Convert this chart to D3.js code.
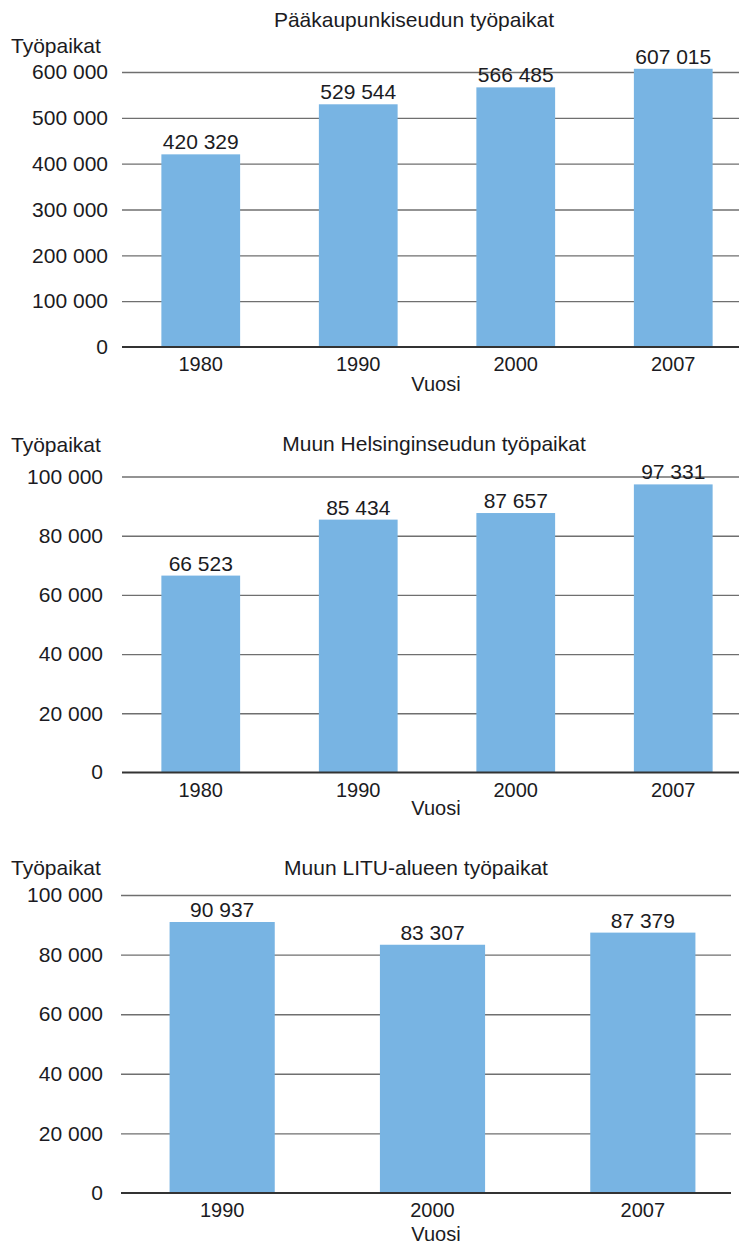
<!DOCTYPE html>
<html>
<head>
<meta charset="utf-8">
<script src="https://cdn.jsdelivr.net/npm/d3@7"></script>
<style>
  body { margin: 0; background: #fff; }
  svg text { font-family: "Liberation Sans", Arial, sans-serif; fill: #1b1b22; }
</style>
</head>
<body>
<div id="chart"></div>
<script>
// data
const titles = ["Pääkaupunkiseudun työpaikat", "Muun Helsinginseudun työpaikat", "Muun LITU-alueen työpaikat"];
const years1 = ["1980", "1990", "2000", "2007"];
const values1 = [420329, 529544, 566485, 607015];
const years2 = ["1980", "1990", "2000", "2007"];
const values2 = [66523, 85434, 87657, 97331];
const years3 = ["1990", "2000", "2007"];
const values3 = [90937, 83307, 87379];
const ticks1 = [0, 100000, 200000, 300000, 400000, 500000, 600000];
const ticks23 = [0, 20000, 40000, 60000, 80000, 100000];
const yLabel = "Työpaikat";
const xLabel = "Vuosi";

const width = 739;
const height = 1247;

const fi = d3.formatLocale({ decimal: ",", thousands: "\u00a0", grouping: [3], currency: ["", " €"] });
const fmt = fi.format(",d");

const svg = d3.select('#chart')
  .append('svg')
  .attr('width', width)
  .attr('height', height)

// layout of each panel (pixels)
const panels = [
  { title: titles[0], cats: years1, vals: values1, ticks: ticks1, max: 600000,
    x0: 122, x1: 752, gridEnd: 739, top: 72, base: 347, titleX: 414, titleY: 27, yLabY: 53, vuosiY: 391, pad: 14 },
  { title: titles[1], cats: years2, vals: values2, ticks: ticks23, max: 100000,
    x0: 122, x1: 752, gridEnd: 739, top: 476.5, base: 772.5, titleX: 434, titleY: 451, yLabY: 452, vuosiY: 815, pad: 19 },
  { title: titles[2], cats: years3, vals: values3, ticks: ticks23, max: 100000,
    x0: 117, x1: 748, gridEnd: 731, top: 895, base: 1193, titleX: 416, titleY: 875, yLabY: 875, vuosiY: 1241, pad: 18, gridStart: 121 }
];

panels.forEach(p => {
  const g = svg.append('g');
  const gs = p.gridStart || p.x0;

  const x = d3.scaleBand()
    .domain(p.cats)
    .range([p.x0, p.x1])
    .paddingInner(0.5)
    .paddingOuter(0.25);

  const y = d3.scaleLinear()
    .domain([0, p.max])
    .range([p.base, p.top]);

  // gridlines + tick labels
  const yAxis = d3.axisLeft(y)
    .tickValues(p.ticks.filter(t => t > 0))
    .tickSize(-(p.gridEnd - gs))
    .tickPadding(p.pad)
    .tickFormat(fmt);

  g.append('g')
    .attr('transform', `translate(${gs},0)`)
    .call(yAxis)
    .call(a => a.select('.domain').remove())
    .call(a => a.selectAll('line').attr('stroke', '#6f6f6f').attr('stroke-width', 1.4))
    .call(a => a.selectAll('text').attr('font-size', 21).attr('fill', '#1b1b22'));

  // zero label
  g.append('text')
    .attr('x', gs - p.pad)
    .attr('y', y(0))
    .attr('dy', '0.32em')
    .attr('text-anchor', 'end')
    .attr('font-size', 21)
    .text(fmt(0));

  g.selectAll('rect')
    .data(p.vals)
    .enter()
    .append('rect')
    .attr('x', (d, i) => x(p.cats[i]))
    .attr('y', d => y(d))
    .attr('width', x.bandwidth())
    .attr('height', d => y(0) - y(d))
    .style('fill', '#78b4e3')

  g.selectAll('text.val')
    .data(p.vals)
    .enter()
    .append('text')
    .attr('class', 'val')
    .attr('x', (d, i) => x(p.cats[i]) + x.bandwidth() / 2)
    .attr('y', d => y(d) - 5)
    .attr('text-anchor', 'middle')
    .attr('font-size', 21)
    .text(d => fmt(d))

  // baseline
  g.append('line')
    .attr('x1', gs)
    .attr('x2', p.gridEnd)
    .attr('y1', y(0))
    .attr('y2', y(0))
    .attr('stroke', '#333')
    .attr('stroke-width', 2)

  const xAxis = d3.axisBottom(x)
    .tickSize(0)
    .tickPadding(10);

  g.append('g')
    .attr('transform', `translate(0,${y(0)})`)
    .call(xAxis)
    .call(a => a.select('.domain').remove())
    .call(a => a.selectAll('text').attr('font-size', 20).attr('fill', '#1b1b22'));

  g.append('text')
    .attr('x', p.titleX)
    .attr('y', p.titleY)
    .attr('text-anchor', 'middle')
    .attr('font-size', 21)
    .text(p.title)

  g.append('text')
    .attr('x', 11)
    .attr('y', p.yLabY)
    .attr('font-size', 21)
    .text(yLabel)

  g.append('text')
    .attr('x', 436)
    .attr('y', p.vuosiY)
    .attr('text-anchor', 'middle')
    .attr('font-size', 20)
    .text(xLabel)
});
</script>
</body>
</html>
